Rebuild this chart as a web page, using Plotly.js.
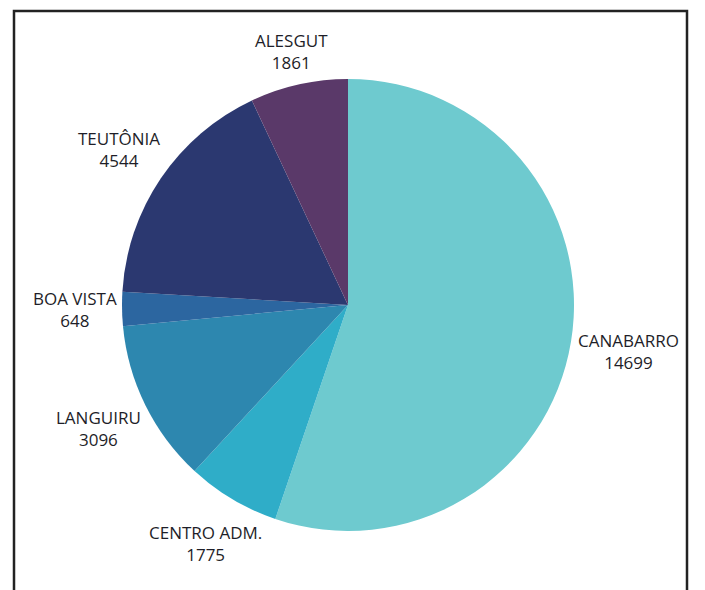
<!DOCTYPE html>
<html>
<head>
<meta charset="utf-8">
<script src="https://cdn.plot.ly/plotly-3.0.1.min.js"></script>
<style>
html,body{margin:0;padding:0;background:#fff;}
#chart{width:705px;height:590px;}
</style>
</head>
<body>
<div id="chart"></div>
<script>
var labels = ["CANABARRO", "CENTRO ADM.", "LANGUIRU", "BOA VISTA", "TEUTÔNIA", "ALESGUT"];
var values = [14699, 1775, 3096, 648, 4544, 1861];
var colors = ["#6ECACF", "#2FADC8", "#2D87AF", "#2C66A0", "#2B3870", "#5A3969"];

var W = 705, H = 590;
var cx = 348, cy = 305, r = 226;
var fontFamily = "Open Sans, Noto Sans, sans-serif";
var fontSize = 17;

var canvas = document.createElement("canvas");
var ctx = canvas.getContext("2d");
ctx.font = fontSize + "px 'Open Sans'";

var total = values.reduce(function(a, b){ return a + b; }, 0);
var annotations = [];
var cum = 0;
for (var i = 0; i < values.length; i++) {
  var mid = (cum + values[i] / 2) / total * 2 * Math.PI;
  cum += values[i];
  var s = Math.sin(mid), c = Math.cos(mid);
  var w = Math.max(ctx.measureText(labels[i]).width, ctx.measureText(String(values[i])).width);
  var h = 42;
  var d = r + 5 + (w / 2) * Math.abs(s) + (h / 2) * Math.abs(c);
  var px = cx + d * s;
  var py = cy - d * c;
  annotations.push({
    xref: "paper", yref: "paper",
    x: px / W, y: 1 - py / H,
    xanchor: "center", yanchor: "middle",
    text: labels[i] + "<br>" + values[i],
    showarrow: false,
    align: "center",
    font: {family: fontFamily, size: fontSize, color: "#1e1e28"}
  });
}

var data = [{
  type: "pie",
  labels: labels,
  values: values,
  marker: {colors: colors, line: {width: 0}},
  sort: false,
  direction: "clockwise",
  rotation: 0,
  textinfo: "none",
  hoverinfo: "label+value",
  domain: {x: [(cx - r) / W, (cx + r) / W], y: [(H - cy - r) / H, (H - cy + r) / H]}
}];

var layout = {
  width: W, height: H,
  margin: {l: 0, r: 0, t: 0, b: 0},
  paper_bgcolor: "#ffffff",
  showlegend: false,
  annotations: annotations,
  shapes: [{
    type: "rect", xref: "paper", yref: "paper",
    x0: 14 / W, x1: 687 / W, y0: -0.05, y1: 1 - 11 / H,
    line: {color: "#222222", width: 2.5},
    fillcolor: "rgba(0,0,0,0)"
  }]
};

Plotly.newPlot("chart", data, layout, {displayModeBar: false, staticPlot: true});
</script>
</body>
</html>
